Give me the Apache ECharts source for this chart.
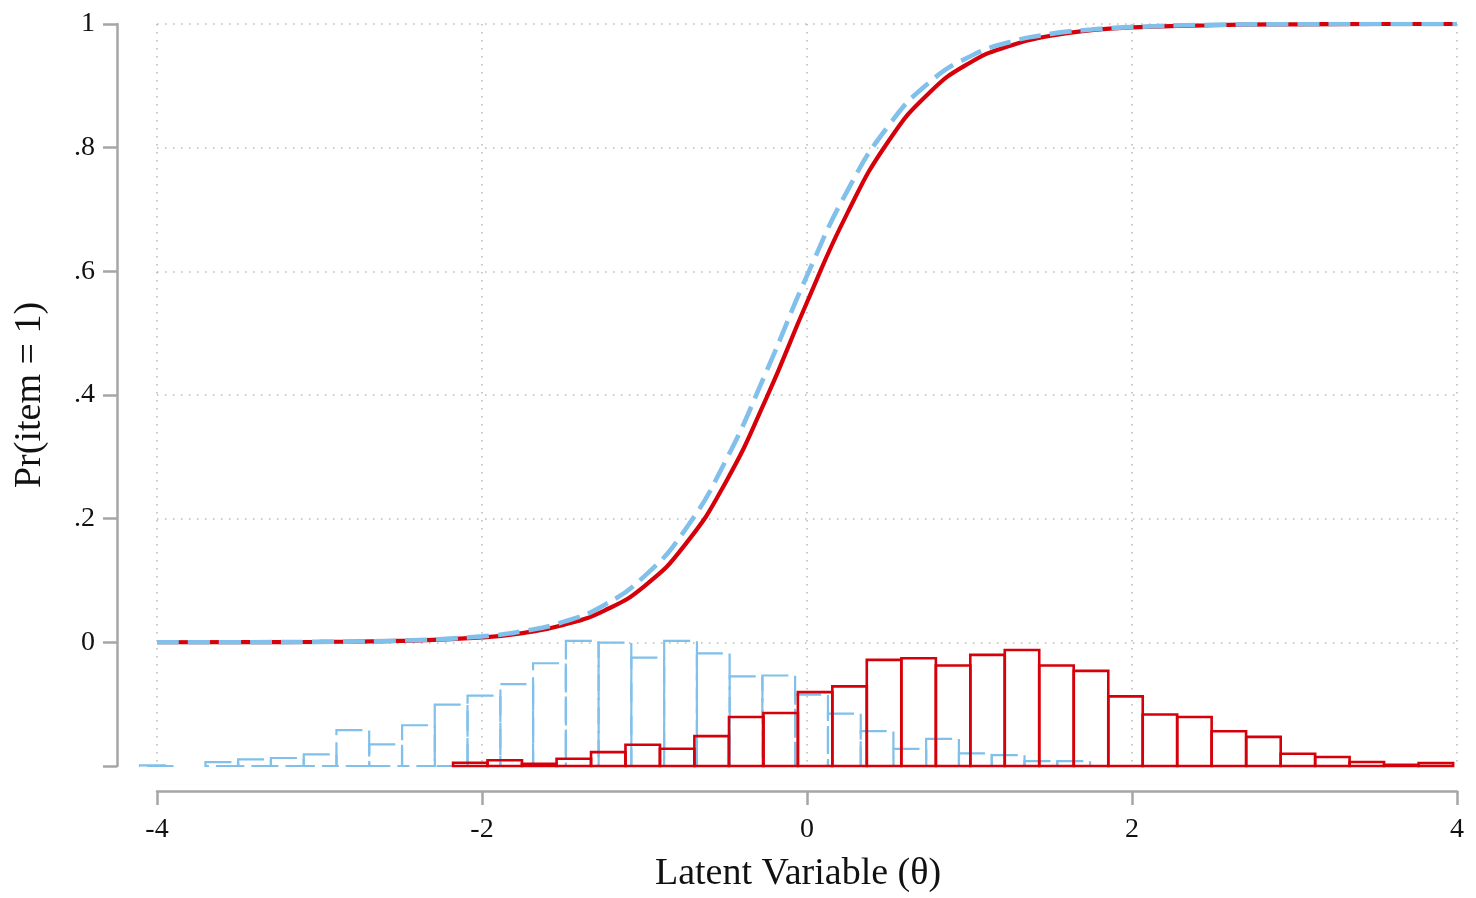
<!DOCTYPE html>
<html>
<head>
<meta charset="utf-8">
<script src="https://cdn.jsdelivr.net/npm/echarts@6/dist/echarts.min.js"></script>
<style>
  html, body { margin: 0; padding: 0; background: #fff; }
  #panel { width: 1476px; height: 898px; }
</style>
</head>
<body>
<div id="panel"></div>
<script>
// item characteristic curves (theta, probability)
var thetaGrid = [-4, -3.5, -3, -2.5, -2, -1.75, -1.5, -1.25, -1, -0.75, -0.5, -0.25, 0, 0.25, 0.5, 0.75, 1, 1.25, 1.5, 1.75, 2, 2.5, 3, 3.5, 4];
var redProb = [0.0001, 0.0002, 0.0007, 0.0024, 0.008, 0.015, 0.028, 0.051, 0.091, 0.158, 0.259, 0.395, 0.55, 0.695, 0.81, 0.888, 0.937, 0.965, 0.981, 0.99, 0.9945, 0.998, 0.9995, 1, 1];
var blueProb = [0.0001, 0.0002, 0.0008, 0.0028, 0.0097, 0.018, 0.033, 0.06, 0.107, 0.182, 0.294, 0.438, 0.593, 0.731, 0.835, 0.905, 0.947, 0.971, 0.984, 0.991, 0.995, 0.9987, 0.9996, 1, 1];

// histograms of theta per group: bin centers and bar heights (in y units above the base)
var histBase = -0.2;
var blueBinWidth = 0.2016;
var blueBins = [-4.004, -3.803, -3.601, -3.400, -3.198, -2.996, -2.795, -2.593, -2.391, -2.190, -1.988, -1.786, -1.585, -1.383, -1.182, -0.980, -0.778, -0.577, -0.375, -0.174, 0.028, 0.230, 0.431, 0.633, 0.834, 1.036, 1.238, 1.439, 1.641];
var blueHeights = [0.001, 0, 0.0064, 0.0108, 0.0129, 0.0188, 0.0579, 0.0349, 0.0659, 0.0992, 0.1137, 0.1324, 0.1662, 0.2022, 0.1995, 0.1753, 0.2022, 0.1822, 0.1448, 0.1464, 0.1153, 0.0848, 0.0563, 0.0278, 0.0439, 0.0204, 0.0177, 0.008, 0.008];
var redBinWidth = 0.2122;
var redBins = [-2.072, -1.860, -1.648, -1.435, -1.223, -1.011, -0.799, -0.587, -0.374, -0.162, 0.050, 0.262, 0.474, 0.687, 0.899, 1.111, 1.323, 1.535, 1.748, 1.960, 2.172, 2.384, 2.596, 2.809, 3.021, 3.233, 3.445, 3.657, 3.870];
var redHeights = [0.0053, 0.0092, 0.0037, 0.0117, 0.0225, 0.0343, 0.0278, 0.0483, 0.0793, 0.0857, 0.1195, 0.1287, 0.1716, 0.1742, 0.1625, 0.1797, 0.1877, 0.1625, 0.1539, 0.1126, 0.0832, 0.0793, 0.0563, 0.0471, 0.0198, 0.0145, 0.0064, 0.0021, 0.0048];

var xTicks = [-4, -2, 0, 2, 4];

var RED = '#d6000a';
var BLUE = '#80c0ea';
var AXIS = '#a6a6a6';
var FONT = 'Liberation Serif';

function pairs(xs, ys) {
    return xs.map(function (x, i) { return [x, ys[i]]; });
}

/** outline bars of a histogram */
function histSeries(bins, heights, width, color, lw, dash, z) {
    return {
        type: 'custom',
        clip: false,
        z: z,
        data: bins.map(function (c, i) { return [c, heights[i]]; }),
        renderItem: function (params, api) {
            var c = api.value(0), h = api.value(1);
            if (h <= 0) return;
            var p0 = api.coord([c - width / 2, histBase + h]);
            var p1 = api.coord([c + width / 2, histBase]);
            return {
                type: 'rect',
                shape: { x: p0[0], y: p0[1], width: p1[0] - p0[0], height: p1[1] - p0[1] },
                style: { fill: 'none', stroke: color, lineWidth: lw, lineDash: dash }
            };
        }
    };
}

chartDom = document.getElementById('panel');
myChart = echarts.init(chartDom);

var option = {
    animation: false,
    backgroundColor: '#fff',
    grid: { left: 157, right: 19, top: 24, bottom: 128 },
    xAxis: {
        type: 'value',
        min: -4, max: 4, interval: 2,
        offset: 25,
        name: 'Latent Variable (θ)',
        nameLocation: 'middle',
        nameGap: 64,
        nameTextStyle: { fontFamily: FONT, fontSize: 38, color: '#111', padding: [0, 18, 0, 0] },
        axisLine: { show: true, onZero: false, lineStyle: { color: AXIS, width: 2.5 } },
        axisTick: { show: true, length: 14, lineStyle: { color: AXIS, width: 2.5 } },
        axisLabel: {
            margin: 25, fontFamily: FONT, fontSize: 28, color: '#111',
            showMinLabel: true, showMaxLabel: true,
            formatter: function (v) { return xTicks.indexOf(v) >= 0 ? String(v) : ''; }
        },
        splitLine: { show: true, lineStyle: { color: '#b8b8b8', width: 1.5, type: [1.5, 6.5] } }
    },
    yAxis: {
        type: 'value',
        min: -0.2, max: 1, interval: 0.2,
        offset: 40,
        name: 'Pr(item = 1)',
        nameLocation: 'middle',
        nameGap: 68,
        nameTextStyle: { fontFamily: FONT, fontSize: 38, color: '#111' },
        axisLine: { show: true, onZero: false, lineStyle: { color: AXIS, width: 2.5 } },
        axisTick: { show: true, length: 14, lineStyle: { color: AXIS, width: 2.5 } },
        axisLabel: {
            margin: 22, fontFamily: FONT, fontSize: 28, color: '#111',
            formatter: function (v) {
                if (v < -0.1) return '';
                if (Math.abs(v) < 1e-9) return '0';
                if (Math.abs(v - 1) < 1e-9) return '1';
                return (+v.toFixed(1)).toString().replace(/^0/, '');
            }
        },
        splitLine: { show: true, showMinLine: false, lineStyle: { color: '#b8b8b8', width: 1.5, type: [1.5, 6.5] } }
    },
    series: [
        histSeries(blueBins, blueHeights, blueBinWidth, BLUE, 2.2, [26, 7], 2),
        histSeries(redBins, redHeights, redBinWidth, RED, 2.6, null, 3),
        {
            type: 'line',
            data: pairs(thetaGrid, redProb),
            smooth: 0.5,
            showSymbol: false,
            z: 4,
            lineStyle: { color: RED, width: 4.2 }
        },
        {
            type: 'line',
            data: pairs(thetaGrid, blueProb),
            smooth: 0.5,
            showSymbol: false,
            z: 5,
            lineStyle: { color: BLUE, width: 4.6, type: [22, 9] }
        }
    ]
};

myChart.setOption(option);
</script>
</body>
</html>
